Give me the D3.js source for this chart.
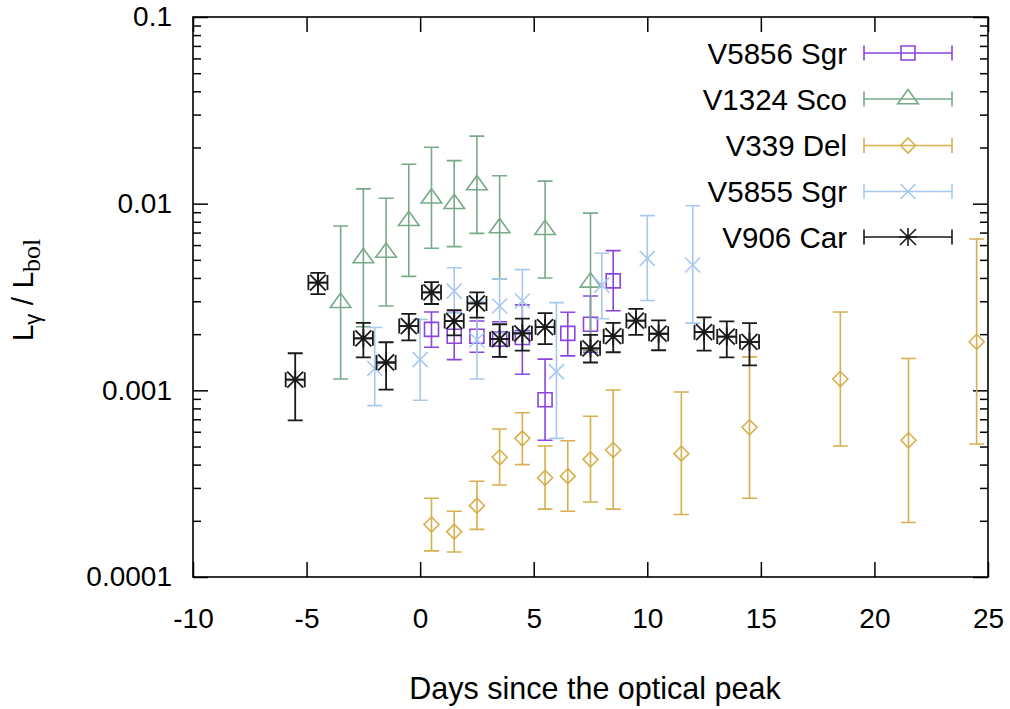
<!DOCTYPE html>
<html>
<head>
<meta charset="utf-8">
<script src="https://cdn.jsdelivr.net/npm/d3@7"></script>
<style>
  html, body { margin: 0; padding: 0; background: #fff; }
  svg { display: block; }
  text { font-family: "Liberation Sans", Arial, Helvetica, sans-serif; fill: #000; }
</style>
</head>
<body>
<svg id="chart" width="1010" height="709"></svg>
<script>
// ---------- data ----------
const seriesNames = ["V5856 Sgr", "V1324 Sco", "V339 Del", "V5855 Sgr", "V906 Car"];

const v5856Days = [0.5, 1.5, 2.5, 3.5, 4.5, 5.5, 6.5, 7.5, 8.5];
const v5856Val  = [0.00212, 0.00195, 0.00195, 0.00188, 0.00192, 0.00089, 0.00202, 0.00226, 0.00386];
const v5856Lo   = [0.0017, 0.00146, 0.0016, 0.00151, 0.00122, 0.00054, 0.00153, 0.0016, 0.00267];
const v5856Hi   = [0.00263, 0.00262, 0.00235, 0.00233, 0.00287, 0.00147, 0.00262, 0.0032, 0.0056];

const v1324Days = [-3.5, -2.5, -1.5, -0.5, 0.5, 1.5, 2.5, 3.5, 5.5, 7.5];
const v1324Val  = [0.00295, 0.00512, 0.00548, 0.0081, 0.0107, 0.0100, 0.0126, 0.00741, 0.00726, 0.00379];
const v1324Lo   = [0.00115, 0.00219, 0.00283, 0.00408, 0.00577, 0.00589, 0.00693, 0.00395, 0.0040, 0.00164];
const v1324Hi   = [0.00759, 0.0120, 0.0107, 0.01626, 0.02005, 0.0170, 0.0230, 0.0141, 0.0132, 0.0089];

const v339Days = [0.5, 1.5, 2.5, 3.5, 4.5, 5.5, 6.5, 7.5, 8.5, 11.5, 14.5, 18.5, 21.5, 24.5];
const v339Val  = [0.000191, 0.000175, 0.000241, 0.000438, 0.000553, 0.00034, 0.000347, 0.000427, 0.000479, 0.000458, 0.000634, 0.00115, 0.00054, 0.00182];
const v339Lo   = [0.000138, 0.000136, 0.00018, 0.000311, 0.0004, 0.000231, 0.000225, 0.000252, 0.000231, 0.000216, 0.000264, 0.000503, 0.000196, 0.000516];
const v339Hi   = [0.000264, 0.000225, 0.000326, 0.000621, 0.000759, 0.000503, 0.000537, 0.000726, 0.001005, 0.00098, 0.00151, 0.00263, 0.00148, 0.00647];

const v5855Days = [-2, 0, 1.5, 2.5, 3.5, 4.5, 6, 8, 10, 12];
const v5855Val  = [0.00131, 0.00146, 0.0034, 0.00186, 0.00283, 0.00301, 0.00126, 0.00366, 0.00509, 0.00469];
const v5855Lo   = [0.000828, 0.000885, 0.0026, 0.00115, 0.00203, 0.00206, 0.000553, 0.00242, 0.00303, 0.00229];
const v5855Hi   = [0.00217, 0.0024, 0.00454, 0.0030, 0.00395, 0.00443, 0.00295, 0.00542, 0.00863, 0.00975];

const v906Days = [-5.5, -4.5, -2.5, -1.5, -0.5, 0.5, 1.5, 2.5, 3.5, 4.5, 5.5, 7.5, 8.5, 9.5, 10.5, 12.5, 13.5, 14.5];
const v906Val  = [0.00114, 0.00378, 0.0019, 0.00141, 0.00221, 0.00335, 0.00235, 0.00292, 0.00188, 0.00202, 0.00218, 0.00168, 0.00195, 0.00236, 0.00201, 0.00205, 0.00194, 0.00182];
const v906Lo   = [0.00069, 0.00328, 0.0015, 0.00101, 0.00185, 0.0029, 0.00197, 0.00245, 0.00151, 0.00163, 0.00177, 0.00141, 0.0016, 0.00198, 0.00164, 0.00163, 0.0015, 0.00136];
const v906Hi   = [0.00158, 0.00426, 0.0023, 0.00181, 0.00257, 0.0038, 0.00269, 0.00335, 0.00226, 0.00242, 0.00259, 0.00198, 0.0023, 0.00273, 0.00237, 0.00246, 0.00234, 0.00229];
const v906DayErr = 0.42;

const xTicks = [-10, -5, 0, 5, 10, 15, 20, 25];
const xTickLabels = ["-10", "-5", "0", "5", "10", "15", "20", "25"];
const yTicks = [0.0001, 0.001, 0.01, 0.1];
const yTickLabels = ["0.0001", "0.001", "0.01", "0.1"];

// ---------- layout ----------
const L = 193, R = 988, T = 17, B = 577;
const colors = ["#8a45dc", "#78aa8a", "#d6b04e", "#a9c8ee", "#1a1a1a"];
const symbols = ["square", "triangle", "diamond", "cross", "star"];

const svg = d3.select("#chart");
const x = d3.scaleLinear().domain([-10, 25]).range([L, R]);
const y = d3.scaleLog().domain([0.0001, 0.1]).range([B, T]);

const minorTicks = [];
[0.0001, 0.001, 0.01].forEach(d => { for (let k = 2; k <= 9; k++) minorTicks.push(d * k); });

// axes
function styleAxis(g) {
  g.select(".domain").remove();
  g.selectAll(".tick line").attr("stroke", "#000").attr("stroke-width", 1.5);
  g.selectAll("text").style("font-size", "28px").attr("fill", "#000");
}
svg.append("g").attr("transform", `translate(0,${B})`)
  .call(d3.axisBottom(x).tickValues(xTicks).tickSizeInner(-15).tickSizeOuter(0).tickPadding(31)
        .tickFormat((d, i) => xTickLabels[i]))
  .call(styleAxis);
svg.append("g").attr("transform", `translate(0,${T})`)
  .call(d3.axisTop(x).tickValues(xTicks).tickSizeInner(-15).tickSizeOuter(0).tickFormat(""))
  .call(styleAxis);
svg.append("g").attr("transform", `translate(${L},0)`)
  .call(d3.axisLeft(y).tickValues(yTicks).tickSizeInner(-15).tickSizeOuter(0).tickPadding(21)
        .tickFormat((d, i) => yTickLabels[i]))
  .call(styleAxis);
svg.append("g").attr("transform", `translate(${L},0)`)
  .call(d3.axisLeft(y).tickValues(minorTicks).tickSizeInner(-8).tickSizeOuter(0).tickFormat(""))
  .call(styleAxis);
svg.append("g").attr("transform", `translate(${R},0)`)
  .call(d3.axisRight(y).tickValues(yTicks).tickSizeInner(-15).tickSizeOuter(0).tickFormat(""))
  .call(styleAxis);
svg.append("g").attr("transform", `translate(${R},0)`)
  .call(d3.axisRight(y).tickValues(minorTicks).tickSizeInner(-8).tickSizeOuter(0).tickFormat(""))
  .call(styleAxis);

svg.append("rect").attr("x", L).attr("y", T).attr("width", R - L).attr("height", B - T)
  .attr("fill", "none").attr("stroke", "#000").attr("stroke-width", 1.6);

// markers
function markerPath(type) {
  const p = d3.path();
  if (type === "square") { p.rect(-7, -7, 14, 14); }
  else if (type === "triangle") { p.moveTo(0, -9.5); p.lineTo(10.3, 4.8); p.lineTo(-10.3, 4.8); p.closePath(); }
  else if (type === "diamond") { p.moveTo(0, -7.5); p.lineTo(7.5, 0); p.lineTo(0, 7.5); p.lineTo(-7.5, 0); p.closePath(); }
  else if (type === "cross") { p.moveTo(-7.5, -7.5); p.lineTo(7.5, 7.5); p.moveTo(-7.5, 7.5); p.lineTo(7.5, -7.5); }
  else if (type === "star") {
    p.moveTo(-8, -8); p.lineTo(8, 8); p.moveTo(-8, 8); p.lineTo(8, -8);
    p.moveTo(-9, 0); p.lineTo(9, 0); p.moveTo(0, -9); p.lineTo(0, 9);
  }
  return p.toString();
}

const allSeries = [
  { days: v5856Days, val: v5856Val, lo: v5856Lo, hi: v5856Hi, dx: 0 },
  { days: v1324Days, val: v1324Val, lo: v1324Lo, hi: v1324Hi, dx: 0 },
  { days: v339Days,  val: v339Val,  lo: v339Lo,  hi: v339Hi,  dx: 0 },
  { days: v5855Days, val: v5855Val, lo: v5855Lo, hi: v5855Hi, dx: 0 },
  { days: v906Days,  val: v906Val,  lo: v906Lo,  hi: v906Hi,  dx: v906DayErr }
];

const cap = 7.5;
allSeries.forEach((s, si) => {
  const g = svg.append("g").attr("stroke", colors[si]).attr("stroke-width", si === 4 ? 1.8 : 1.6).attr("fill", "none");
  const pts = s.days.map((d, i) => ({ d, v: s.val[i], lo: s.lo[i], hi: s.hi[i] }));
  pts.forEach(p => {
    const cx = x(p.d), cy = y(p.v), yl = y(p.lo), yh = y(p.hi);
    const path = d3.path();
    path.moveTo(cx, yh); path.lineTo(cx, yl);
    path.moveTo(cx - cap, yh); path.lineTo(cx + cap, yh);
    path.moveTo(cx - cap, yl); path.lineTo(cx + cap, yl);
    if (s.dx > 0) {
      const xl = x(p.d - s.dx), xr = x(p.d + s.dx);
      path.moveTo(xl, cy); path.lineTo(xr, cy);
      path.moveTo(xl, cy - cap); path.lineTo(xl, cy + cap);
      path.moveTo(xr, cy - cap); path.lineTo(xr, cy + cap);
    }
    g.append("path").attr("d", path.toString());
    g.append("path").attr("d", markerPath(symbols[si])).attr("transform", `translate(${cx},${cy})`);
    if (si === 4) g.append("circle").attr("cx", cx).attr("cy", cy).attr("r", 2).attr("fill", colors[si]).attr("stroke", "none");
  });
});

// legend
const legRows = [53, 99, 145.5, 191.5, 237];
const legText = 847, legX0 = 864, legX1 = 952, legM = 908;
seriesNames.forEach((name, i) => {
  const ly = legRows[i];
  svg.append("text").attr("x", legText).attr("y", ly).attr("dy", "0.36em")
    .attr("text-anchor", "end").style("font-size", "29.5px").text(name);
  const g = svg.append("g").attr("stroke", colors[i]).attr("stroke-width", 1.6).attr("fill", "none");
  const p = d3.path();
  p.moveTo(legX0, ly); p.lineTo(legX1, ly);
  p.moveTo(legX0, ly - cap); p.lineTo(legX0, ly + cap);
  p.moveTo(legX1, ly - cap); p.lineTo(legX1, ly + cap);
  g.append("path").attr("d", p.toString());
  g.append("path").attr("d", markerPath(symbols[i])).attr("transform", `translate(${legM},${ly})`);
});

// axis titles
svg.append("text").attr("x", 595).attr("y", 699).attr("text-anchor", "middle")
  .style("font-size", "30.5px").text("Days since the optical peak");

const yl = svg.append("text").attr("transform", "translate(33,290) rotate(-90)").attr("text-anchor", "middle")
  .style("font-size", "30px");
yl.append("tspan").text("L");
yl.append("tspan").attr("dy", 7).style("font-size", "22px").text("γ");
yl.append("tspan").attr("dy", -7).text("  /  L");
yl.append("tspan").attr("dy", 7).style("font-size", "26px")
  .style("font-family", "'Liberation Serif', 'Times New Roman', serif").text("bol");
</script>
</body>
</html>
